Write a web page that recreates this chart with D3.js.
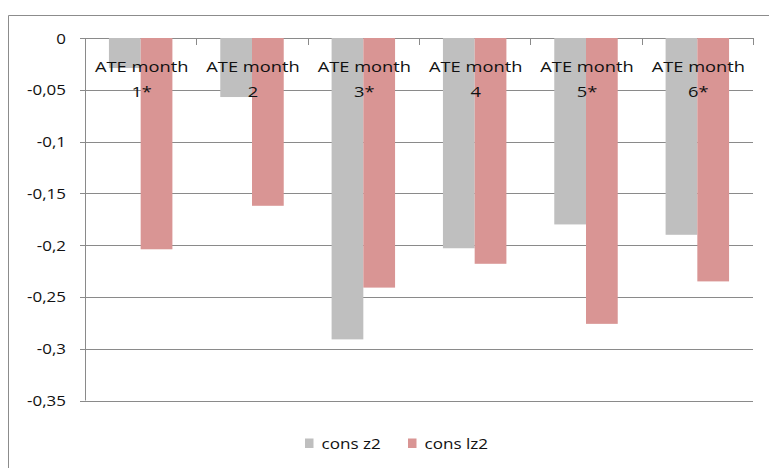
<!DOCTYPE html>
<html>
<head>
<meta charset="utf-8">
<script src="https://cdn.jsdelivr.net/npm/d3@7"></script>
<style>
  html, body { margin: 0; padding: 0; background: #fff; }
  svg { display: block; }
  text { font-family: "Open Sans", sans-serif; fill: #111; }
</style>
</head>
<body>
<script>
// ---- data ----
const categories = ["ATE month 1*", "ATE month 2", "ATE month 3*", "ATE month 4", "ATE month 5*", "ATE month 6*"];
const labelLine1 = ["ATE month", "ATE month", "ATE month", "ATE month", "ATE month", "ATE month"];
const labelLine2 = ["1*", "2", "3*", "4", "5*", "6*"];
const seriesNames = ["cons z2", "cons lz2"];
const consZ2  = [-0.029, -0.057, -0.291, -0.203, -0.180, -0.190];
const consLz2 = [-0.204, -0.162, -0.241, -0.218, -0.276, -0.235];
const yTicks = [0, -0.05, -0.1, -0.15, -0.2, -0.25, -0.3, -0.35];
const yTickLabels = ["0", "-0,05", "-0,1", "-0,15", "-0,2", "-0,25", "-0,3", "-0,35"];
const colors = ["#bfbfbf", "#d99594"];

// ---- layout ----
const W = 769, H = 468;
const mLeft = 85, mRight = 753, mTop = 38, mBottom = 400.5;

const svg = d3.select("body").append("svg").attr("width", W).attr("height", H);

// outer chart border
svg.append("path")
  .attr("d", `M8.5,${H} L8.5,15.5 L${W},15.5`)
  .attr("fill", "none").attr("stroke", "#8c8c8c").attr("stroke-width", 1);

const x = d3.scaleBand().domain(categories).range([mLeft, mRight]).paddingInner(0.43).paddingOuter(0.215);
const xs = d3.scaleBand().domain(seriesNames).range([0, x.bandwidth()]).padding(0);
const y = d3.scaleLinear().domain([-0.35, 0]).range([mBottom, mTop]);

// gridlines (with left tick)
svg.append("g").selectAll("line").data(yTicks).join("line")
  .attr("x1", mLeft - 5).attr("x2", mRight)
  .attr("y1", d => Math.round(y(d)) + 0.5).attr("y2", d => Math.round(y(d)) + 0.5)
  .attr("stroke", "#8a8a8a").attr("stroke-width", 1);

// vertical axis line
svg.append("line").attr("x1", mLeft + 0.5).attr("x2", mLeft + 0.5)
  .attr("y1", mTop).attr("y2", mBottom)
  .attr("stroke", "#8a8a8a");

// category tick marks
const step = x.step();
const catTicks = d3.range(categories.length + 1).map(i => mLeft + i * step);
svg.append("g").selectAll("line").data(catTicks).join("line")
  .attr("x1", d => Math.round(d) + 0.5).attr("x2", d => Math.round(d) + 0.5)
  .attr("y1", mTop).attr("y2", mTop + 7)
  .attr("stroke", "#8a8a8a");

// bars
const data = categories.map((c, i) => ({ c, vals: [consZ2[i], consLz2[i]] }));
const groups = svg.append("g").selectAll("g").data(data).join("g")
  .attr("transform", d => `translate(${x(d.c)},0)`);
groups.selectAll("rect").data(d => d.vals.map((v, j) => ({ v, s: seriesNames[j], j })))
  .join("rect")
  .attr("x", d => xs(d.s))
  .attr("width", xs.bandwidth())
  .attr("y", y(0))
  .attr("height", d => y(d.v) - y(0))
  .attr("fill", d => colors[d.j]);

// y tick labels
svg.append("g").selectAll("text").data(yTicks).join("text")
  .attr("transform", d => `translate(66,${y(d) + 5.5}) scale(1.13,1)`)
  .attr("text-anchor", "end")
  .attr("font-size", 15)
  .text((d, i) => yTickLabels[i]);

// category labels (on top of bars)
const lab = svg.append("g").selectAll("g").data(categories).join("g");
lab.append("text")
  .attr("transform", d => `translate(${x(d) + x.bandwidth() / 2 + 1},71.5) scale(1.22,1)`)
  .attr("text-anchor", "middle").attr("font-size", 15)
  .text((d, i) => labelLine1[i]);
lab.append("text")
  .attr("transform", d => `translate(${x(d) + x.bandwidth() / 2 + 1},97) scale(1.22,1)`)
  .attr("text-anchor", "middle").attr("font-size", 15)
  .text((d, i) => labelLine2[i]);

// legend
const legendX = [305, 408];
const leg = svg.append("g").selectAll("g").data(seriesNames).join("g")
  .attr("transform", (d, i) => `translate(${legendX[i]},438.5)`);
leg.append("rect").attr("width", 8.5).attr("height", 9.5).attr("fill", (d, i) => colors[i]);
leg.append("text")
  .attr("transform", "translate(16.5,10.5) scale(1.14,1)")
  .attr("font-size", 15)
  .text(d => d);
</script>
</body>
</html>
